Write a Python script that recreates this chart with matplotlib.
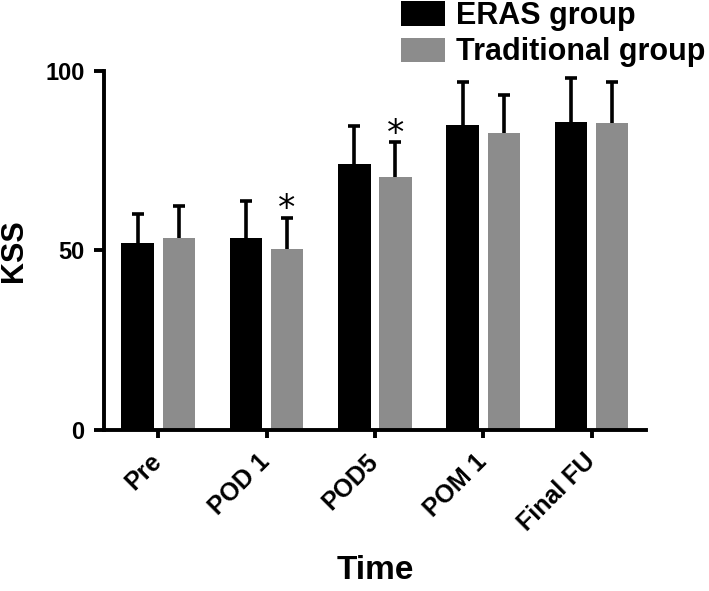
import numpy as np
import matplotlib
matplotlib.use("Agg")
import matplotlib.pyplot as plt
import matplotlib.transforms as mtransforms

plt.rcParams['font.family'] = ['Liberation Sans', 'DejaVu Sans']
plt.rcParams['font.weight'] = 'bold'

# data
time_points = ["Pre", "POD 1", "POD5", "POM 1", "Final FU"]
eras_mean = [52.0, 53.5, 74.1, 84.8, 85.8]
eras_sd = [8.0, 10.1, 10.6, 12.1, 12.1]
trad_mean = [53.5, 50.3, 70.4, 82.7, 85.4]
trad_sd = [8.8, 8.7, 9.7, 10.6, 11.5]
significant = [False, True, True, False, False]   # asterisk over traditional bar

black = "#000000"
grey = "#8c8c8c"

fig = plt.figure(figsize=(7.09, 5.91), dpi=100)
ax = fig.add_axes([104 / 709, 1 - 430 / 591, (645.7 - 104) / 709, (430 - 70.7) / 591])

x = np.arange(len(time_points))
w = 0.30
off = 0.19

ax.bar(x - off, eras_mean, w, color=black, label="ERAS group")
ax.bar(x + off, trad_mean, w, color=grey, label="Traditional group")

# upper-only error bars
for xs, m, sd in [(x - off, eras_mean, eras_sd), (x + off, trad_mean, trad_sd)]:
    eb = ax.errorbar(xs, m, yerr=[np.zeros(len(xs)), sd], fmt="none", ecolor="black",
                     elinewidth=2.6, capsize=4.5, capthick=2.6, clip_on=False)
    eb[1][0].set_visible(False)
    for c in eb[1]:
        c.set_clip_on(False)
    for c in eb[2]:
        c.set_clip_on(False)

for i, sig in enumerate(significant):
    if sig:
        ax.annotate("*", (x[i] + off, trad_mean[i] + trad_sd[i]), xytext=(0, -6),
                    textcoords="offset points", ha="center", va="bottom",
                    fontsize=25, fontweight="normal", family="DejaVu Sans")

ax.set_xlim(-0.5, 4.5)
ax.set_ylim(0, 100)
ax.set_yticks([0, 50, 100])
ax.set_xticks(x)
ax.set_xticklabels(time_points, rotation=45, ha="right", va="center",
                   rotation_mode="anchor", fontsize=18, fontweight="bold")
shift = mtransforms.ScaledTranslation(-6 / 100, 0, fig.dpi_scale_trans)
for lbl in ax.get_xticklabels():
    lbl.set_transform(lbl.get_transform() + shift)
ax.tick_params(axis="y", labelsize=17, width=2.8, length=7, pad=7)
ax.tick_params(axis="x", width=2.8, length=6, pad=14)
for lbl in ax.get_yticklabels():
    lbl.set_fontweight("bold")

for s in ["top", "right"]:
    ax.spines[s].set_visible(False)
for s in ["left", "bottom"]:
    ax.spines[s].set_linewidth(2.8)

ax.set_ylabel("KSS", fontsize=22, fontweight="bold", labelpad=12)
ax.set_xlabel("Time", fontsize=24, fontweight="bold", labelpad=14)

fig.legend(loc="upper left", bbox_to_anchor=(401 / 709, 0.998), frameon=False,
           handlelength=1.44, handleheight=0.85, handletextpad=0.36,
           labelspacing=0.2, borderpad=0, borderaxespad=0,
           prop={"weight": "bold", "size": 22})

fig.savefig("out.png", dpi=100)
